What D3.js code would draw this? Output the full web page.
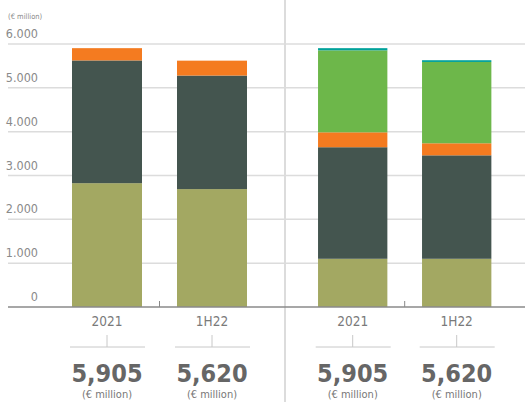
<!DOCTYPE html>
<html>
<head>
<style>
  body { margin: 0; background: #fff; }
  text { font-family: "DejaVu Sans Condensed", "Liberation Sans", sans-serif; }
</style>
<script src="https://d3js.org/d3.v7.min.js"></script>
</head>
<body>
<svg id="chart" width="525" height="402"></svg>
<script>
// categories and stacked series (values in € million)
const periods = ["2021", "1H22"];
const totals = ["5,905", "5,620"];
const yTicks = [0, 1000, 2000, 3000, 4000, 5000, 6000];

// left panel: three segments
const leftKeys = ["olive", "dark", "orange"];
const leftOlive = [2825, 2690];
const leftDark = [2800, 2590];
const leftOrange = [280, 340];

// right panel: five segments
const rightKeys = ["olive", "dark", "orange", "green", "teal"];
const rightOlive = [1100, 1100];
const rightDark = [2545, 2360];
const rightOrange = [340, 275];
const rightGreen = [1870, 1855];
const rightTeal = [50, 40];

const colors = {olive: "#a3a862", dark: "#44554f", orange: "#f47b20", green: "#6db74a", teal: "#00a19a"};

const svg = d3.select("svg#chart");
const y = d3.scaleLinear().domain([0, 6000]).range([307, 44]);

// gridlines
const grid = svg.append("g");
grid.selectAll("line").data(yTicks.filter(d => d > 0)).join("line")
  .attr("x1", 8).attr("x2", 525)
  .attr("y1", d => y(d)).attr("y2", d => y(d))
  .attr("stroke", "#dcdcdc").attr("stroke-width", 1.5);

// divider between the two panels
svg.append("line").attr("x1", 285).attr("x2", 285).attr("y1", 0).attr("y2", 402)
  .attr("stroke", "#dcdcdc").attr("stroke-width", 2);

// y tick labels
svg.append("g").selectAll("text").data(yTicks).join("text")
  .attr("x", 38).attr("y", d => y(d) - 6)
  .attr("text-anchor", "end")
  .attr("font-size", 12.5).attr("fill", "#8a8a8a")
  .text(d => d3.format(",")(d).replace(",", "."));

svg.append("text").attr("x", 8).attr("y", 19)
  .attr("font-size", 7.5).attr("fill", "#8a8a8a").text("(€ million)");

function panel(range, keys, series) {
  const x = d3.scaleBand().domain(periods).range(range).paddingInner(1 / 3).paddingOuter(1 / 6);
  const rows = periods.map((p, i) => {
    const r = {period: p};
    keys.forEach((k, j) => r[k] = series[j][i]);
    return r;
  });
  const stacked = d3.stack().keys(keys)(rows);
  const g = svg.append("g");
  g.selectAll("g").data(stacked).join("g")
    .attr("fill", d => colors[d.key])
    .selectAll("rect").data(d => d).join("rect")
    .attr("x", d => x(d.data.period))
    .attr("width", x.bandwidth())
    .attr("y", d => y(d[1]))
    .attr("height", d => y(d[0]) - y(d[1]));

  // small tick between bars
  const mid = x(periods[0]) + x.bandwidth() + x.step() * (1 / 6);
  g.append("line").attr("x1", mid).attr("x2", mid).attr("y1", 301).attr("y2", 307)
    .attr("stroke", "#888").attr("stroke-width", 1);

  periods.forEach((p, i) => {
    const cx = x(p) + x.bandwidth() / 2;
    g.append("text").attr("x", cx).attr("y", 326).attr("text-anchor", "middle")
      .attr("font-size", 13.5).attr("fill", "#7a7a7a").text(p);
    g.append("line").attr("x1", cx).attr("x2", cx).attr("y1", 335).attr("y2", 347)
      .attr("stroke", "#c8c8c8").attr("stroke-width", 1);
    g.append("line").attr("x1", cx - 37).attr("x2", cx + 38).attr("y1", 347).attr("y2", 347)
      .attr("stroke", "#c8c8c8").attr("stroke-width", 1);
    g.append("text").attr("x", cx).attr("y", 382).attr("text-anchor", "middle")
      .attr("font-size", 25).attr("font-weight", "bold").attr("fill", "#666").text(totals[i]);
    g.append("text").attr("x", cx).attr("y", 398).attr("text-anchor", "middle")
      .attr("font-size", 11).attr("fill", "#777").text("(€ million)");
  });
}

panel([54.5, 264.5], leftKeys, [leftOlive, leftDark, leftOrange]);
panel([300.7, 508.7], rightKeys, [rightOlive, rightDark, rightOrange, rightGreen, rightTeal]);

// baseline
svg.append("line").attr("x1", 8).attr("x2", 525).attr("y1", y(0)).attr("y2", y(0))
  .attr("stroke", "#8a8a8a").attr("stroke-width", 1.5);
</script>
</body>
</html>
